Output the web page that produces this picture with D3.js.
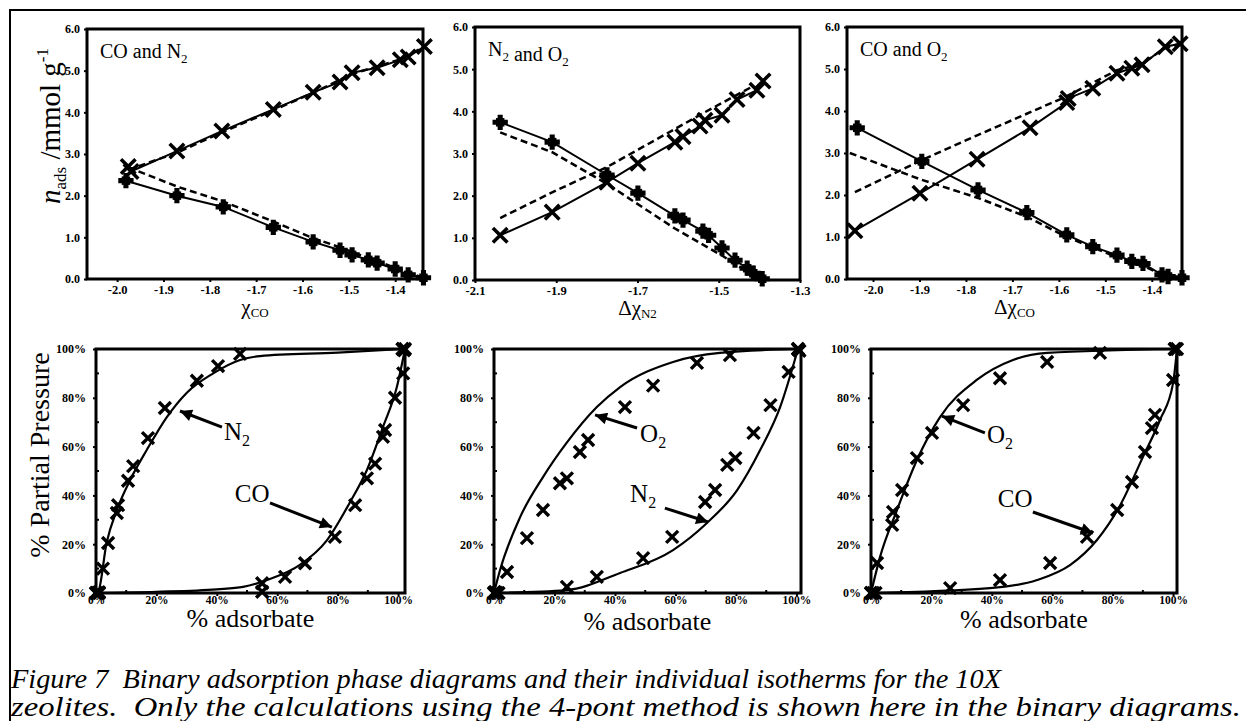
<!DOCTYPE html>
<html>
<head>
<meta charset="utf-8">
<script src="https://cdn.jsdelivr.net/npm/d3@7"></script>
<style>
body { margin: 0; background: #fff; }
svg text { font-family: "Liberation Serif", "Times New Roman", serif; fill: #000; }
</style>
</head>
<body>
<svg id="fig" width="1246" height="721" font-family="Liberation Serif, serif"></svg>
<script>
// ---- top row: n_ads vs chi (x = cross markers, p = filled plus markers, calc = dashed) ----
const p1X = [[-1.976, 2.70], [-1.970, 2.58], [-1.871, 3.07], [-1.774, 3.55], [-1.663, 4.07], [-1.577, 4.48], [-1.519, 4.73], [-1.493, 4.95], [-1.439, 5.07], [-1.389, 5.26], [-1.372, 5.33], [-1.337, 5.58]];
const p1P = [[-1.981, 2.36], [-1.871, 2.00], [-1.771, 1.73], [-1.663, 1.24], [-1.577, 0.89], [-1.519, 0.69], [-1.493, 0.58], [-1.458, 0.46], [-1.439, 0.38], [-1.400, 0.24], [-1.372, 0.10], [-1.339, 0.03]];
const p1XCalc = [[-1.976, 2.62], [-1.871, 3.03], [-1.774, 3.52], [-1.663, 4.05], [-1.577, 4.47], [-1.493, 4.92], [-1.389, 5.27], [-1.337, 5.58]];
const p1PCalc = [[-1.976, 2.68], [-1.871, 2.22], [-1.771, 1.86], [-1.663, 1.38], [-1.577, 0.98], [-1.519, 0.76], [-1.458, 0.50], [-1.400, 0.27], [-1.339, 0.03]];

const p2X = [[-2.038, 1.06], [-1.910, 1.61], [-1.775, 2.32], [-1.699, 2.77], [-1.608, 3.27], [-1.588, 3.40], [-1.546, 3.65], [-1.534, 3.79], [-1.492, 3.91], [-1.455, 4.28], [-1.406, 4.50], [-1.391, 4.72]];
const p2P = [[-2.038, 3.74], [-1.910, 3.27], [-1.775, 2.49], [-1.699, 2.06], [-1.608, 1.52], [-1.588, 1.42], [-1.539, 1.16], [-1.525, 1.06], [-1.492, 0.76], [-1.460, 0.47], [-1.430, 0.28], [-1.415, 0.16], [-1.393, 0.03]];
const p2XCalc = [[-2.038, 1.47], [-1.910, 2.08], [-1.775, 2.68], [-1.608, 3.58], [-1.534, 3.98], [-1.415, 4.60]];
const p2PCalc = [[-2.038, 3.50], [-1.910, 3.03], [-1.775, 2.28], [-1.608, 1.22], [-1.492, 0.58], [-1.406, 0.05]];

const p3X = [[-2.039, 1.15], [-1.899, 2.04], [-1.776, 2.85], [-1.662, 3.60], [-1.583, 4.20], [-1.580, 4.30], [-1.527, 4.54], [-1.475, 4.90], [-1.443, 5.02], [-1.421, 5.10], [-1.371, 5.53], [-1.339, 5.60]];
const p3P = [[-2.034, 3.60], [-1.895, 2.80], [-1.774, 2.12], [-1.669, 1.58], [-1.583, 1.05], [-1.527, 0.77], [-1.475, 0.57], [-1.443, 0.42], [-1.419, 0.37], [-1.378, 0.10], [-1.365, 0.06], [-1.335, 0.03]];
const p3XCalc = [[-2.039, 2.07], [-1.895, 2.83], [-1.776, 3.42], [-1.587, 4.33], [-1.475, 4.97], [-1.421, 5.13], [-1.371, 5.50], [-1.339, 5.60]];
const p3PCalc = [[-2.050, 3.00], [-1.895, 2.36], [-1.774, 1.93], [-1.669, 1.48], [-1.583, 1.00], [-1.475, 0.52], [-1.419, 0.32], [-1.378, 0.10], [-1.365, 0.05]];

const nTicks = [0, 1, 2, 3, 4, 5, 6];
const p1Ticks = [-2.0, -1.9, -1.8, -1.7, -1.6, -1.5, -1.4];
const p2Ticks = [-2.1, -1.9, -1.7, -1.5, -1.3];
const p3Ticks = [-2.0, -1.9, -1.8, -1.7, -1.6, -1.5, -1.4];

// ---- bottom row: % partial pressure vs % adsorbate ----
const p4N2 = [[0, 0], [0.5, 0], [1, 0.3], [2.3, 10], [4, 20.5], [6.9, 32.8], [7.3, 36], [10.6, 46], [12.3, 52], [17.2, 63.5], [22.8, 75.8], [33.4, 87], [40.4, 93], [47.7, 98], [101.5, 100], [102, 99.5]];
const p4N2Fit = [[0, 0], [0.7, 0.4], [3.5, 20.5], [6.9, 34], [11.8, 47.5], [16.8, 58.6], [23.4, 72], [30, 82], [38.8, 90], [47.7, 95.5], [54.3, 97.1], [80, 98.5], [101.7, 100]];
const p4CO = [[0, 0], [1, 0], [55, 4], [55, 0.5], [62.6, 6.6], [69.2, 12.2], [79.1, 23], [85.8, 36], [89.7, 47], [92.4, 53], [95, 64], [95.7, 66.8], [99, 80], [101.7, 90], [102.3, 100], [101.5, 100]];
const p4COFit = [[0, 0], [20, 0.5], [40, 1.5], [48.7, 2.5], [56.6, 5.3], [67.5, 11.5], [76.5, 21.7], [84, 37], [89.7, 50.4], [95, 68], [99.6, 84.4], [102.3, 100]];

const p5O2 = [[0, 0], [0.3, 0.4], [1, 0], [4.3, 8.6], [10.9, 22.5], [16.2, 34], [21.8, 45], [24.1, 47], [28.4, 57.8], [31.1, 62.7], [43.3, 76.2], [52.6, 85], [67.1, 94.3], [78, 97.5], [100.5, 100], [101, 99.3]];
const p5O2Fit = [[0, 0], [2, 9.4], [8.6, 31], [16.2, 47.5], [24, 61.5], [34, 76.2], [41.7, 84.4], [59.2, 94.7], [74.7, 98.4], [100.5, 100]];
const p5N2 = [[0, 0], [1.5, 0], [24.1, 2.5], [34, 6.6], [49.3, 14.3], [58.9, 23], [69.8, 37.3], [73.1, 42.2], [77.1, 52.5], [79.8, 55.3], [85.8, 65.6], [91.4, 77], [97.4, 90.6], [100.5, 100]];
const p5N2Fit = [[0, 0], [24, 1.2], [41.7, 8.2], [59.2, 17.6], [70.4, 28.7], [80.4, 42.2], [88, 58.6], [94.6, 76.2], [100.5, 100]];

const p6O2 = [[0, 0], [0.7, 0], [2, 12.3], [7, 27.9], [7.3, 33.2], [10.3, 42.2], [15.2, 55.3], [20.2, 65.6], [30.5, 77], [42.7, 88], [58.3, 94.7], [75.8, 98.4], [100.7, 100]];
const p6O2Fit = [[0, 0], [3, 14.8], [8.6, 34], [15.2, 54.5], [22.8, 72], [35, 87.3], [47, 95.5], [58.3, 98.4], [100.7, 100]];
const p6CO = [[0, 0], [1.5, 0], [26.2, 2], [42.7, 5.3], [59.3, 12.3], [71.5, 23], [81.5, 34], [86.4, 45.5], [90.7, 57.8], [93, 67.6], [94, 73], [100, 87.3], [101.3, 100], [100.5, 100]];
const p6COFit = [[0, 0], [39.4, 2], [55, 5.3], [66, 11.5], [74.8, 21.7], [82.5, 36], [90, 55.7], [95.7, 71], [100, 86], [101.3, 100]];

const pctTicks = [0, 20, 40, 60, 80, 100];
const pctMinor = [10, 30, 50, 70, 90];

// annotation: label pos [x,y], arrow tail, arrow tip (data units)
const p4Notes = [{ t: "N", s: "2", at: [46.7, 62.7], from: [41.7, 68], to: [27.8, 74.6] },
                 { t: "CO", s: "", at: [51.7, 37.3], from: [57.6, 36.9], to: [78.1, 27] }];
const p5Notes = [{ t: "O", s: "2", at: [52.6, 61.9], from: [47.3, 67.6], to: [33.4, 73] },
                 { t: "N", s: "2", at: [49.3, 37.3], from: [56.5, 34.8], to: [70.8, 29.1] }];
const p6Notes = [{ t: "O", s: "2", at: [42.7, 61.5], from: [37.7, 65.6], to: [23.5, 72.5] },
                 { t: "CO", s: "", at: [47.7, 35.2], from: [53.6, 33.2], to: [73.5, 24.6] }];

const caption = ["Figure 7  Binary adsorption phase diagrams and their individual isotherms for the 10X",
    "zeolites.  Only the calculations using the 4-pont method is shown here in the binary diagrams."];

const svg = d3.select("#fig");

// outer figure frame (top + left edge)
svg.append("path")
    .attr("d", "M10,721 L10,10 L1246,10")
    .attr("fill", "none")
    .attr("stroke", "#000")
    .attr("stroke-width", 2);

svg.append("defs").append("marker")
    .attr("id", "head")
    .attr("viewBox", "0 0 10 10")
    .attr("refX", 10).attr("refY", 5)
    .attr("markerWidth", 5).attr("markerHeight", 4)
    .attr("markerUnits", "strokeWidth")
    .attr("orient", "auto")
    .append("path")
    .attr("d", "M0,0 L10,5 L0,10 z")
    .attr("fill", "#000");

function panelSetup(box, xDomain, yDomain) {
    const g = svg.append("g");
    const x = d3.scaleLinear().domain(xDomain).range([box.left, box.right]);
    const y = d3.scaleLinear().domain(yDomain).range([box.bottom, box.top]);

    g.append("rect")
        .attr("x", box.left).attr("y", box.top)
        .attr("width", box.right - box.left)
        .attr("height", box.bottom - box.top)
        .attr("fill", "none")
        .attr("stroke", "#000")
        .attr("stroke-width", 3);

    return { g: g, x: x, y: y, box: box };
}

function styleAxis(a, size) {
    a.attr("font-family", null);
    a.select("path.domain").remove();
    a.selectAll("line").attr("stroke-width", 2);
    a.selectAll("text")
        .attr("font-weight", "bold")
        .attr("font-size", size);
}

function drawCross(g, pts, p, size, sw) {
    g.selectAll(null)
        .data(pts)
        .join("path")
        .attr("d", d3.symbol(d3.symbolX, size))
        .attr("transform", d => "translate(" + p.x(d[0]) + "," + p.y(d[1]) + ")")
        .attr("fill", "none")
        .attr("stroke", "#000")
        .attr("stroke-width", sw);
}

function drawPlus(g, pts, p) {
    g.selectAll(null)
        .data(pts)
        .join("path")
        .attr("d", d3.symbol(d3.symbolCross, 130))
        .attr("transform", d => "translate(" + p.x(d[0]) + "," + p.y(d[1]) + ")")
        .attr("fill", "#000");
    g.selectAll(null)
        .data(pts)
        .join("path")
        .attr("d", d3.symbol(d3.symbolSquare, 72))
        .attr("transform", d => "translate(" + p.x(d[0]) + "," + p.y(d[1]) + ")")
        .attr("fill", "#000");
}

function topPanel(box, xDomain, xTicks, xs, ps, xCalc, pCalc, title, xLabel) {
    const p = panelSetup(box, xDomain, [0, 6]);
    const line = d3.line().x(d => p.x(d[0])).y(d => p.y(d[1]));

    [xCalc, pCalc].forEach(d => {
        p.g.append("path").attr("d", line(d))
            .attr("fill", "none").attr("stroke", "#000")
            .attr("stroke-width", 2.5).attr("stroke-dasharray", "7,4");
    });
    [xs, ps].forEach(d => {
        p.g.append("path").attr("d", line(d))
            .attr("fill", "none").attr("stroke", "#000").attr("stroke-width", 2);
    });
    drawPlus(p.g, ps, p);
    drawCross(p.g, xs, p, 140, 3.5);

    const ya = p.g.append("g")
        .attr("transform", "translate(" + box.left + ",0)")
        .call(d3.axisLeft(p.y).tickValues(nTicks).tickFormat(d3.format(".1f")).tickSize(3).tickPadding(4));
    styleAxis(ya, 12);
    const xa = p.g.append("g")
        .attr("transform", "translate(0," + box.bottom + ")")
        .call(d3.axisBottom(p.x).tickValues(xTicks).tickSize(3).tickPadding(3));
    styleAxis(xa, 12.5);
    xa.selectAll("text").text(d => d3.format(".1f")(d).replace("\u2212", "-"));

    const t = p.g.append("text")
        .attr("x", box.left + 13).attr("y", box.top + 29)
        .attr("font-size", 20);
    title.forEach(s => {
        t.append("tspan").text(s[0]);
        t.append("tspan").attr("font-size", 13).attr("dy", 5).text(s[1]);
        t.append("tspan").attr("dy", -5).text("");
    });

    const xl = p.g.append("text")
        .attr("x", (box.left + box.right) / 2).attr("y", box.bottom + 35)
        .attr("text-anchor", "middle").attr("font-size", 21);
    xl.append("tspan").text(xLabel[0]);
    xl.append("tspan").attr("font-size", 13).attr("dy", 3).text(xLabel[1]);
    return p;
}

function bottomPanel(box, xMax, s1, f1, s2, f2, notes, labelDy) {
    const p = panelSetup(box, [0, xMax], [0, 100]);
    const curve = d3.line().x(d => p.x(d[0])).y(d => p.y(d[1])).curve(d3.curveMonotoneX);

    [f1, f2].forEach(d => {
        p.g.append("path").attr("d", curve(d))
            .attr("fill", "none").attr("stroke", "#000").attr("stroke-width", 2.2);
    });
    drawCross(p.g, s1, p, 95, 3.4);
    drawCross(p.g, s2, p, 95, 3.4);

    const pct = d => d + "%";
    const ya = p.g.append("g")
        .attr("transform", "translate(" + box.left + ",0)")
        .call(d3.axisLeft(p.y).tickValues(pctTicks).tickFormat(pct).tickSize(3).tickPadding(7));
    styleAxis(ya, 12);
    const xa = p.g.append("g")
        .attr("transform", "translate(0," + box.bottom + ")")
        .call(d3.axisBottom(p.x).tickValues(pctTicks).tickFormat(pct).tickSize(3).tickPadding(0));
    styleAxis(xa, 11.5);

    p.g.selectAll(null).data(pctMinor).join("line")
        .attr("x1", box.left).attr("x2", box.left + 3)
        .attr("y1", d => p.y(d)).attr("y2", d => p.y(d))
        .attr("stroke", "#000").attr("stroke-width", 2);
    p.g.selectAll(null).data(pctMinor).join("line")
        .attr("x1", d => p.x(d)).attr("x2", d => p.x(d))
        .attr("y1", box.bottom).attr("y2", box.bottom - 3)
        .attr("stroke", "#000").attr("stroke-width", 2);

    notes.forEach(n => {
        p.g.append("line")
            .attr("x1", p.x(n.from[0])).attr("y1", p.y(n.from[1]))
            .attr("x2", p.x(n.to[0])).attr("y2", p.y(n.to[1]))
            .attr("stroke", "#000").attr("stroke-width", 3)
            .attr("marker-end", "url(#head)");
        const t = p.g.append("text")
            .attr("x", p.x(n.at[0])).attr("y", p.y(n.at[1]))
            .attr("text-anchor", "middle").attr("font-size", 25);
        t.append("tspan").text(n.t);
        if (n.s) t.append("tspan").attr("font-size", 16).attr("dy", 6).text(n.s);
    });

    p.g.append("text")
        .attr("x", (box.left + box.right) / 2).attr("y", box.bottom + labelDy)
        .attr("text-anchor", "middle").attr("font-size", 26)
        .text("% adsorbate");
    return p;
}

topPanel({ left: 87, right: 423, top: 29, bottom: 279 }, [-2.065, -1.34], p1Ticks,
    p1X, p1P, p1XCalc, p1PCalc, [["CO and N", "2"]], ["\u03c7", "CO"]);
topPanel({ left: 475, right: 800, top: 27, bottom: 280 }, [-2.1, -1.3], p2Ticks,
    p2X, p2P, p2XCalc, p2PCalc, [["N", "2"], [" and O", "2"]], ["\u0394\u03c7", "N2"]);
topPanel({ left: 847, right: 1182, top: 27, bottom: 279 }, [-2.056, -1.335], p3Ticks,
    p3X, p3P, p3XCalc, p3PCalc, [["CO and O", "2"]], ["\u0394\u03c7", "CO"]);

bottomPanel({ left: 96, right: 405, top: 349, bottom: 593 }, 102.3, p4N2, p4N2Fit, p4CO, p4COFit, p4Notes, 34);
bottomPanel({ left: 494, right: 801, top: 349, bottom: 593 }, 101.5, p5O2, p5O2Fit, p5N2, p5N2Fit, p5Notes, 37);
bottomPanel({ left: 871, right: 1177, top: 349, bottom: 593 }, 101.3, p6O2, p6O2Fit, p6CO, p6COFit, p6Notes, 35);

// y-axis titles
const yl = svg.append("text")
    .attr("transform", "translate(60,126) rotate(-90)")
    .attr("text-anchor", "middle").attr("font-size", 29);
yl.append("tspan").attr("font-style", "italic").text("n");
yl.append("tspan").attr("font-size", 17).attr("dy", 6).text("ads");
yl.append("tspan").attr("dy", -6).text(" /mmol g");
yl.append("tspan").attr("font-size", 17).attr("dy", -12).text("-1");

svg.append("text")
    .attr("transform", "translate(49,455) rotate(-90)")
    .attr("text-anchor", "middle").attr("font-size", 28)
    .text("% Partial Pressure");

// caption
const capWidth = [990, 1230];
svg.selectAll("text.cap")
    .data(caption)
    .join("text")
    .classed("cap", true)
    .attr("x", 11)
    .attr("y", (d, i) => 688 + i * 28)
    .attr("font-size", 28)
    .attr("font-style", "italic")
    .attr("textLength", (d, i) => capWidth[i])
    .attr("lengthAdjust", "spacingAndGlyphs")
    .style("white-space", "pre")
    .text(d => d);
</script>
</body>
</html>
